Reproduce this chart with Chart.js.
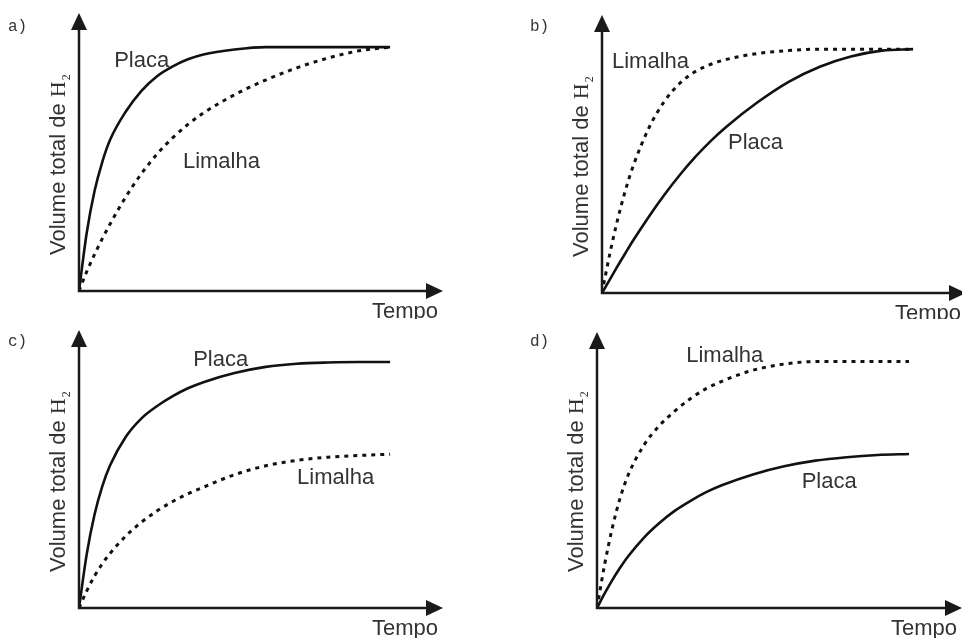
<!DOCTYPE html>
<html lang="pt">
<head>
<meta charset="UTF-8">
<title>Volume total de H2 x Tempo</title>
<script src="https://cdn.jsdelivr.net/npm/chart.js"></script>
<style>
    body {
        margin: 0;
        width: 962px;
        height: 638px;
        overflow: hidden;
        background: #fff;
        position: relative;
    }
    canvas {
        position: absolute;
    }
</style>
</head>
<body>
<canvas id="chartA" width="481" height="319" style="left:0;top:0"></canvas>
<canvas id="chartB" width="500" height="319" style="left:481px;top:0"></canvas>
<canvas id="chartC" width="481" height="319" style="left:0;top:319px"></canvas>
<canvas id="chartD" width="500" height="319" style="left:481px;top:319px"></canvas>

<script>
// tempo (arbitrary units, curves end at 10)
const tempo = [0, 0.25, 0.5, 0.75, 1, 1.5, 2, 2.5, 3, 3.5, 4, 5, 6, 7, 8, 9, 10];

// volume total de H2 (arbitrary units, plateau = 10)
const placaA   = [0, 2.4, 4.1, 5.3, 6.2, 7.35, 8.2, 8.8, 9.2, 9.5, 9.7, 9.9, 10, 10, 10, 10, 10];
const limalhaA = [0, 0.8, 1.5, 2.15, 2.75, 3.85, 4.8, 5.6, 6.27, 6.83, 7.3, 8.05, 8.65, 9.15, 9.55, 9.85, 10];

const placaB   = [0, 0.55, 1.1, 1.63, 2.15, 3.12, 4.02, 4.84, 5.58, 6.24, 6.82, 7.82, 8.66, 9.28, 9.7, 9.94, 10];
const limalhaB = [0, 1.6, 3.0, 4.2, 5.2, 6.75, 7.85, 8.6, 9.08, 9.38, 9.58, 9.82, 9.94, 10, 10, 10, 10];

const placaC   = [0, 2.2, 3.8, 4.95, 5.8, 6.95, 7.7, 8.2, 8.6, 8.93, 9.18, 9.55, 9.8, 9.93, 9.98, 10, 10];
const limalhaC = [0, 0.7, 1.3, 1.8, 2.22, 2.92, 3.48, 3.94, 4.32, 4.64, 4.91, 5.42, 5.78, 6.0, 6.13, 6.2, 6.25];

const placaD   = [0, 0.6, 1.15, 1.65, 2.1, 2.85, 3.45, 3.95, 4.35, 4.7, 4.98, 5.42, 5.75, 5.98, 6.12, 6.21, 6.25];
const limalhaD = [0, 1.8, 3.3, 4.5, 5.4, 6.6, 7.4, 8.0, 8.5, 8.9, 9.2, 9.65, 9.9, 10, 10, 10, 10];

const labelFont = '22px "Liberation Sans", Arial, sans-serif';

function pts(vals) {
    return tempo.map((t, i) => ({ x: t, y: vals[i] }));
}

// draws the arrow axes, titles and the curve names
const decor = {
    id: 'decor',
    afterDraw(chart, args, opts) {
        const ctx = chart.ctx;
        const a = chart.chartArea;
        const xs = chart.scales.x, ys = chart.scales.y;
        ctx.save();
        ctx.strokeStyle = '#1a1a1a';
        ctx.fillStyle = '#1a1a1a';
        ctx.lineWidth = 2.5;
        ctx.beginPath();
        ctx.moveTo(a.left, a.top + 14);
        ctx.lineTo(a.left, a.bottom);
        ctx.lineTo(a.right - 14, a.bottom);
        ctx.stroke();
        // arrow heads
        ctx.beginPath();
        ctx.moveTo(a.left, a.top);
        ctx.lineTo(a.left - 8, a.top + 17);
        ctx.lineTo(a.left + 8, a.top + 17);
        ctx.closePath();
        ctx.fill();
        ctx.beginPath();
        ctx.moveTo(a.right, a.bottom);
        ctx.lineTo(a.right - 17, a.bottom - 8);
        ctx.lineTo(a.right - 17, a.bottom + 8);
        ctx.closePath();
        ctx.fill();

        ctx.fillStyle = '#333';
        ctx.font = labelFont;
        ctx.textBaseline = 'alphabetic';
        // Tempo
        ctx.textAlign = 'right';
        ctx.fillText('Tempo', a.right - 5, a.bottom + 27);
        ctx.textAlign = 'left';
        // curve names
        opts.names.forEach(n => {
            ctx.fillText(n.text, xs.getPixelForValue(n.x), ys.getPixelForValue(n.y));
        });
        // y title
        ctx.save();
        ctx.translate(a.left - 14, a.bottom - 36);
        ctx.rotate(-Math.PI / 2);
        const s = 'Volume total de ';
        ctx.fillText(s, 0, 0);
        let w = ctx.measureText(s).width;
        ctx.font = '22px "Liberation Serif", "Times New Roman", serif';
        ctx.fillText('H', w, 0);
        w += ctx.measureText('H').width;
        ctx.font = '12px "Liberation Serif", "Times New Roman", serif';
        ctx.fillText('2', w + 1, 5);
        ctx.restore();
        // panel letter
        ctx.font = '16px "Liberation Mono", "Courier New", monospace';
        ctx.fillStyle = '#333';
        ctx.fillText(opts.letter, opts.lx, opts.ly);
        ctx.restore();
    }
};

function makeChart(id, placa, limalha, pad, yMax, letter, lx, ly, names) {
    return new Chart(document.getElementById(id), {
        type: 'line',
        data: {
            datasets: [
                {
                    label: 'Placa',
                    data: pts(placa),
                    borderColor: '#111',
                    borderWidth: 2.6,
                    pointRadius: 0,
                    cubicInterpolationMode: 'monotone',
                    fill: false
                },
                {
                    label: 'Limalha',
                    data: pts(limalha),
                    borderColor: '#111',
                    borderWidth: 3,
                    borderDash: [4, 5],
                    pointRadius: 0,
                    cubicInterpolationMode: 'monotone',
                    fill: false
                }
            ]
        },
        options: {
            responsive: false,
            animation: false,
            devicePixelRatio: 1,
            layout: { padding: pad },
            scales: {
                x: { type: 'linear', min: 0, max: 11.7, display: false },
                y: { min: 0, max: yMax, display: false }
            },
            plugins: {
                legend: { display: false },
                tooltip: { enabled: false },
                decor: { letter: letter, lx: lx, ly: ly, names: names }
            }
        },
        plugins: [decor]
    });
}

makeChart('chartA', placaA, limalhaA, { left: 79, top: 13, right: 38, bottom: 28 }, 11.4, 'a)', 8, 31,
    [{ text: 'Placa', x: 1.13, y: 9.18 }, { text: 'Limalha', x: 3.34, y: 5.04 }]);
makeChart('chartB', placaB, limalhaB, { left: 121, top: 15, right: 15, bottom: 26 }, 11.4, 'b)', 49, 31,
    [{ text: 'Limalha', x: 0.32, y: 9.22 }, { text: 'Placa', x: 4.05, y: 5.9 }]);
makeChart('chartC', placaC, limalhaC, { left: 79, top: 11, right: 38, bottom: 30 }, 11.3, 'c)', 8, 27,
    [{ text: 'Placa', x: 3.67, y: 9.84 }, { text: 'Limalha', x: 7.01, y: 5.04 }]);
makeChart('chartD', placaD, limalhaD, { left: 116, top: 13, right: 19, bottom: 30 }, 11.2, 'd)', 49, 27,
    [{ text: 'Limalha', x: 2.86, y: 10.0 }, { text: 'Placa', x: 6.56, y: 4.88 }]);
</script>
</body>
</html>
